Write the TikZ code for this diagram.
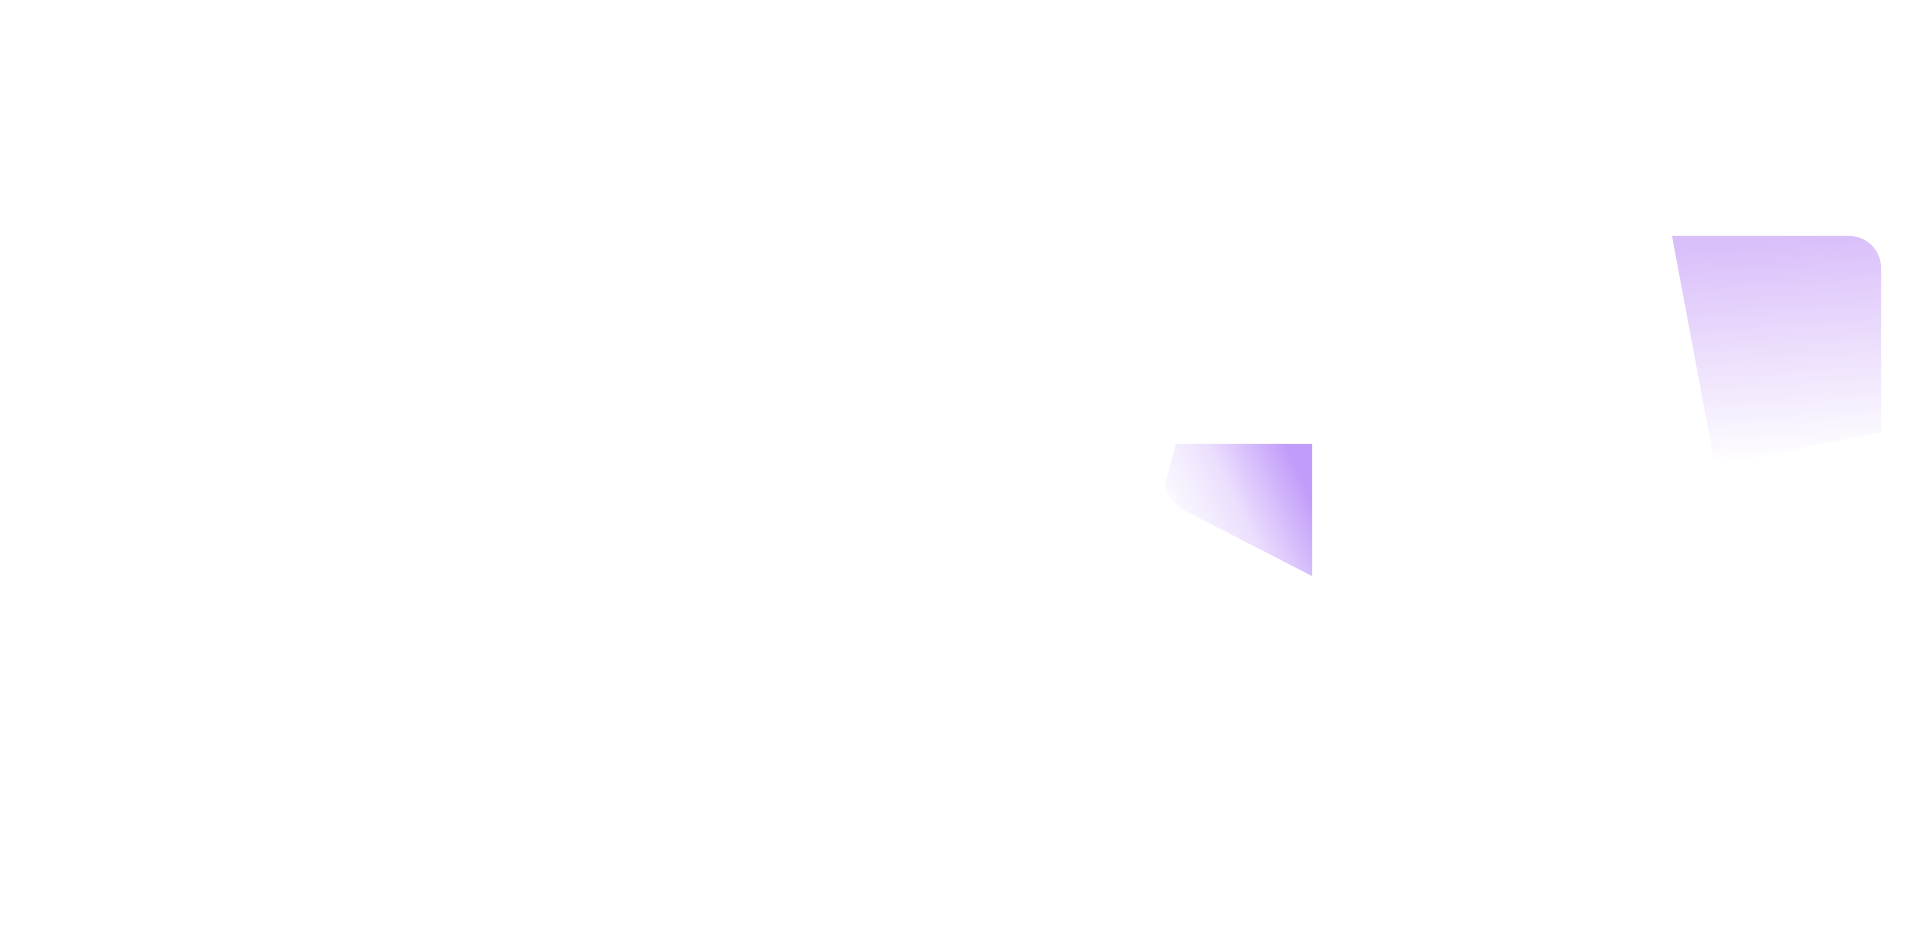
\documentclass[tikz,border=0pt]{standalone}
\definecolor{lilac}{HTML}{D9BEFA}
\definecolor{violet}{HTML}{C29CFA}
\begin{document}
\begin{tikzpicture}[x=0.01cm, y=0.01cm]
    \fill[white] (0,0) rectangle (1920,942);
    \useasboundingbox (0,0) rectangle (1920,942);
    % upper right panel
    \path[top color=lilac, bottom color=white, shading angle=4]
      (1672,706) {[rounded corners=0.32cm] -- (1881,706) -- (1881,600)} -- (1881,510) -- (1715,477) -- cycle;
    % lower panel
    \path[top color=violet, bottom color=white, middle color=violet!32!white, shading angle=-64]
      (1176,498) -- (1312,498) -- (1312,366) -- (1180,434) .. controls (1168,446) .. (1165,458) -- cycle;
  \end{tikzpicture}
\end{document}
